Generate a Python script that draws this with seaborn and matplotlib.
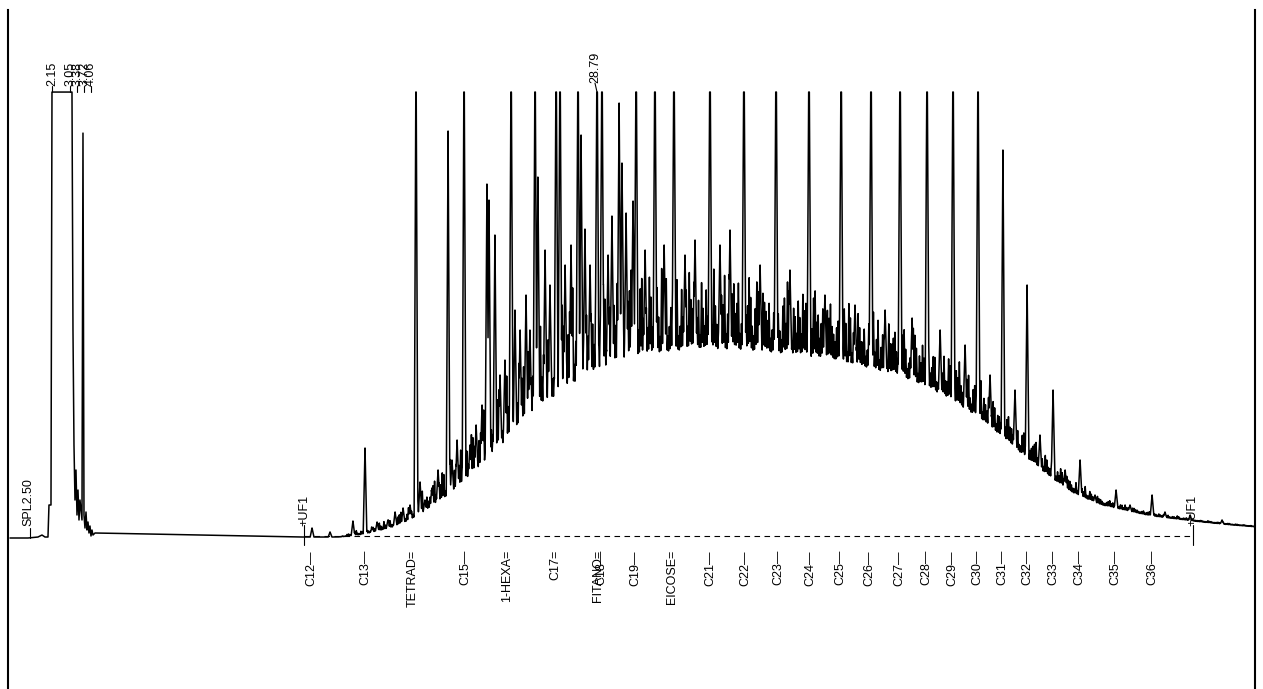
import numpy as np
import pandas as pd
import matplotlib
matplotlib.use("Agg")
import matplotlib.pyplot as plt
import seaborn as sns

# ---- data: retention time (min) and detector response (% of full scale) ----

# solvent front, drawn vertex by vertex
solvent_t = [0.097, 0.977, 1.465, 1.661, 1.808, 1.954, 2.003, 2.101, 2.150, 3.127,
             3.176, 3.225, 3.274, 3.323, 3.372, 3.421, 3.470, 3.518, 3.616, 3.665,
             3.714, 3.763, 3.812, 3.861, 3.910, 3.958, 4.007, 4.056, 4.105, 4.154, 4.252]
solvent_v = [0.0, 0.0, 0.22, 0.67, 0.22, 0.22, 7.40, 7.40, 100.0, 100.0,
             46.64, 20.85, 8.52, 15.25, 5.16, 10.76, 4.04, 8.52, 4.04, 90.8,
             5.16, 2.24, 5.83, 1.79, 3.59, 1.12, 2.69, 0.45, 1.79, 0.67, 1.12]

# lower edge of the unresolved hump
hump_t = [4.25, 6.94, 9.38, 11.83, 14.27, 16.23, 17.20, 18.18, 19.16, 20.14, 21.12,
          22.09, 23.07, 24.05, 25.03, 26.00, 26.98, 27.96, 28.94, 29.91, 31.38,
          33.82, 36.27, 38.71, 41.16, 43.60, 45.55, 47.51, 48.98, 50.44, 51.91,
          53.38, 55.82, 58.26, 59.73, 60.95]
hump_lo = [1.12, 0.90, 0.67, 0.45, 0.22, 0.22, 0.67, 1.57, 2.91, 5.16, 8.07,
           11.43, 15.70, 20.18, 24.66, 28.70, 32.06, 34.75, 37.00, 38.79, 40.58,
           41.70, 41.26, 40.36, 38.57, 35.87, 32.06, 26.46, 20.85, 15.25, 10.31,
           7.40, 4.93, 3.59, 2.91, 2.47]

# upper edge of the unresolved grass
grass_env_t = [4.25, 16.23, 17.20, 18.18, 19.16, 20.14, 21.12, 22.09, 23.07, 24.05,
               25.03, 26.00, 26.98, 27.96, 28.94, 29.91, 31.38, 32.85, 33.82, 34.80,
               35.78, 36.76, 38.71, 41.16, 43.60, 46.04, 48.49, 50.93, 53.38, 55.82,
               58.26, 60.95]
grass_env_hi = [1.12, 0.45, 2.24, 3.59, 6.28, 10.5, 15.5, 21.5, 28.5, 37.0,
                46.0, 52.0, 57.0, 59.5, 60.0, 62.0, 63.0, 62.0, 61.0, 63.0,
                64.0, 61.0, 58.5, 54.0, 50.0, 44.0, 33.5, 20.0, 10.5, 6.8,
                4.8, 3.3]

# grass tops every 0.075 min from 16.2 min, in tenths of the grass band;
# the two lists hold the even and the odd positions
grass_start = 16.2
grass_step = 0.075
grass_even = [
    3, 5, 2, 6, 4, 7, 3, 5, 8, 4, 2, 6, 5, 9, 3, 4, 7, 2, 5, 6,
    8, 3, 4, 6, 2, 7, 5, 9, 4, 3, 6, 8, 2, 5, 7, 4, 9, 3, 6, 5,
    4, 7, 3, 8, 5, 2, 6, 9, 4, 5, 3, 7, 8, 2, 6, 4, 5, 9, 3, 7,
    6, 2, 8, 4, 5, 7, 3, 9, 6, 4, 2, 8, 5, 6, 3, 7, 9, 4, 5, 2,
    7, 4, 6, 3, 8, 5, 9, 2, 6, 7, 4, 5, 8, 3, 6, 9, 2, 5, 7, 4,
    5, 8, 3, 6, 4, 9, 7, 2, 5, 6, 8, 3, 4, 7, 9, 5, 2, 6, 8, 3,
    4, 6, 9, 3, 7, 5, 2, 8, 6, 4, 7, 3, 9, 5, 6, 2, 8, 4, 7, 5,
    6, 3, 8, 5, 2, 7, 9, 4, 6, 3, 5, 8, 7, 2, 4, 9, 6, 5, 3, 7,
    8, 4, 5, 7, 3, 6, 9, 2, 5, 8, 4, 6, 3, 7, 9, 5, 2, 6, 4, 8,
    5, 7, 3, 6, 8, 2, 4, 9, 6, 5, 7, 3, 8, 4, 6, 2, 5, 7, 3, 6,
    4, 6, 8, 3, 5, 7, 2, 6, 4, 8, 5, 3, 7, 6, 2, 4, 5, 3, 6, 4,
    3, 5, 2, 6, 4, 3, 5, 7, 2, 4, 6, 3, 5, 2, 4, 6, 3, 5, 4, 2,
    5, 3, 4, 6, 2, 4, 3, 5, 4, 2, 3, 5, 4, 3, 2, 4, 5, 3, 2, 4,
    3, 2, 4, 3, 5, 2, 3, 4, 2, 3, 4, 2, 3, 5, 2, 3, 4, 2, 3, 2,
    2, 3, 2, 4, 3, 2, 3, 2, 4, 2, 3, 2, 3, 2, 2, 3, 2, 3, 2, 2,
]
grass_odd = [
    4, 2, 6, 3, 5, 8, 2, 4, 6, 3, 7, 4, 2, 5, 8, 3, 6, 2, 4, 7,
    5, 2, 7, 4, 3, 8, 6, 2, 5, 4, 7, 3, 6, 8, 2, 4, 6, 5, 3, 8,
    2, 6, 4, 7, 3, 5, 8, 2, 6, 4, 3, 7, 5, 2, 8, 6, 3, 4, 7, 5,
    3, 7, 4, 6, 2, 8, 5, 3, 7, 2, 6, 4, 8, 3, 5, 7, 2, 6, 4, 3,
    6, 2, 5, 8, 3, 4, 7, 5, 2, 6, 8, 3, 5, 4, 7, 2, 6, 3, 8, 5,
    3, 6, 4, 7, 2, 5, 8, 3, 6, 4, 2, 7, 5, 3, 6, 8, 4, 2, 5, 7,
    7, 3, 5, 2, 6, 8, 4, 3, 7, 5, 2, 6, 4, 8, 3, 5, 7, 2, 6, 4,
    2, 5, 7, 3, 6, 4, 8, 2, 5, 7, 3, 6, 4, 2, 8, 5, 3, 7, 4, 6,
    5, 3, 6, 4, 8, 2, 7, 5, 3, 6, 4, 2, 7, 5, 3, 8, 4, 6, 2, 5,
    6, 4, 2, 7, 5, 3, 6, 8, 2, 4, 5, 7, 3, 6, 2, 5, 4, 3, 7, 4,
    3, 5, 4, 2, 6, 3, 5, 4, 7, 2, 4, 6, 3, 5, 4, 3, 2, 5, 4, 3,
    4, 2, 5, 3, 2, 4, 6, 3, 4, 2, 5, 3, 4, 2, 3, 5, 2, 4, 3, 2,
    2, 4, 3, 2, 5, 3, 2, 4, 3, 2, 4, 3, 2, 3, 4, 2, 3, 2, 4, 3,
    2, 3, 2, 4, 2, 3, 2, 3, 4, 2, 2, 3, 2, 4, 2, 3, 2, 3, 2, 2,
    3, 2, 2, 3, 2, 2, 3, 2, 2, 3, 2, 2, 3, 2, 3, 2, 2, 2, 3, 2,
]

# resolved peaks (apex time, apex response); responses above 100 run off scale
peak_t = [19.94, 22.29, 24.59, 25.76, 26.79, 26.98, 27.86, 28.79, 29.03, 30.70,
          31.62, 32.55, 34.31, 35.97, 37.54, 39.15, 40.72, 42.18, 43.60, 44.92,
          46.19, 47.41,
          14.86, 15.74, 16.86, 17.45, 17.79, 18.04, 18.57, 18.92, 19.31, 19.65,
          20.14, 20.38, 20.72, 21.02, 21.51, 21.70, 21.95, 22.58, 22.88, 23.17,
          23.41, 23.51, 23.80, 24.05, 24.29, 24.78, 25.03, 25.32, 25.51, 25.90,
          26.25, 26.49, 27.23, 27.52, 28.01, 28.20, 28.45, 29.33, 29.52, 29.87,
          30.01, 30.21, 30.55, 31.14, 32.07, 33.09, 33.58, 34.80, 35.29, 36.76,
          38.22, 39.93, 41.40, 42.87, 44.19, 45.56, 46.78, 48.00, 48.63, 49.22,
          49.81, 50.44, 51.08, 51.67, 52.40, 53.13, 54.16, 54.84, 55.92, 56.55,
          57.78, 59.34]
peak_v = [115] * 22 + [
          2.24, 1.35, 3.81, 20.18, 2.24, 3.59, 4.04, 5.83, 6.73, 7.40,
          12.56, 8.52, 11.21, 15.25, 91.26, 17.49, 21.97, 20.85, 25.34, 29.82,
          79.37, 75.78, 67.94, 36.55, 39.91, 51.12, 46.64, 54.48, 46.64, 80.94,
          64.57, 56.73, 61.21, 65.70, 90.36, 69.28, 61.21, 63.45, 72.20, 97.53,
          84.08, 72.87, 75.56, 64.57, 65.70, 63.45, 66.82, 65.70, 69.06, 61.21,
          60.09, 54.48, 52.24, 51.12, 49.33, 46.64, 43.27, 36.55, 87.00, 33.18,
          56.73, 23.09, 33.18, 15.25, 17.49, 9.64, 10.76, 7.40, 9.64, 5.83,
          5.16, 4.04]

# identified compounds
comp_names = ["C12—", "C13—", "TETRAD=", "C15—", "1-HEXA=", "C17=", "FITANO=",
              "C18—", "C19—", "EICOSE=", "C21—", "C22—", "C23—", "C24—", "C25—",
              "C26—", "C27—", "C28—", "C29—", "C30—", "C31—", "C32—", "C33—",
              "C34—", "C35—", "C36—"]
comp_t = [14.81, 17.45, 19.80, 22.34, 24.39, 26.74, 28.84, 28.99, 30.65, 32.46,
          34.31, 36.02, 37.64, 39.20, 40.67, 42.09, 43.55, 44.87, 46.14, 47.36,
          48.59, 49.81, 51.08, 52.35, 54.11, 55.92]

# retention times printed at the top of the trace
rt_labels = ["2.15", "3.05", "3.38", "3.72", "4.06"]
rt_t = [2.15, 3.05, 3.38, 3.72, 4.06]
apex_label = "28.79"
apex_t = 28.79

# integration events
event_names = ["SPL2.50", "+UF1", "+UF1"]
event_t = [1.07, 14.47, 57.90]

# ---- build the detector trace ----
t = np.arange(4.26, 60.95, 0.0025)
lo = np.interp(t, hump_t, hump_lo)


def spike(center, top, hw):
    base = np.interp(center, hump_t, hump_lo)
    shape = np.clip(1.0 - np.abs(t - center) / hw, 0.0, None)
    return lo + (top - base) * shape


grass = [v for pair in zip(grass_even, grass_odd) for v in pair]
sig = lo.copy()
for i, f in enumerate(grass):
    c = grass_start + i * grass_step
    b = np.interp(c, hump_t, hump_lo)
    h = np.interp(c, grass_env_t, grass_env_hi)
    sig = np.maximum(sig, spike(c, b + f / 10.0 * (h - b), 0.045))
for c, v in zip(peak_t, peak_v):
    sig = np.maximum(sig, spike(c, v, 0.09))
sig = np.minimum(sig, 100.0)

trace = pd.DataFrame({
    "time": np.concatenate([solvent_t, t]),
    "response": np.concatenate([solvent_v, sig]),
})

# ---- draw ----
sns.set_theme(style="white")
plt.rcParams["font.family"] = ["Liberation Sans", "DejaVu Sans"]

fig = plt.figure(figsize=(12.63, 6.89), dpi=100)
ax = fig.add_axes([8 / 1263, 0.0, 1247 / 1263, 1 - 10 / 689])

sns.lineplot(data=trace, x="time", y="response", sort=False, estimator=None,
             color="black", lw=1.1, ax=ax)

# baseline drawn by the integrator
ax.plot([14.47, 57.90], [0.45, 0.45], color="black", lw=0.8, ls=(0, (5, 4)))

ax.set_xlim(0, 60.95)
ax.set_ylim(-33.86, 118.4)
ax.set_xlabel("")
ax.set_ylabel("")
ax.set_xticks([])
ax.set_yticks([])
for side in ("top", "bottom"):
    ax.spines[side].set_visible(False)
for side in ("left", "right"):
    ax.spines[side].set_color("black")
    ax.spines[side].set_linewidth(1.5)

fs = 9
for name, x in zip(comp_names, comp_t):
    ax.text(x, -2.7, name, rotation=90, ha="center", va="top", fontsize=fs,
            color="black")

for name, x in zip(rt_labels, rt_t):
    ax.plot([x, x], [100, 101.3], color="black", lw=0.8)
    ax.text(x, 101.3, name, rotation=90, ha="center", va="bottom", fontsize=fs,
            color="black")
ax.plot([apex_t, apex_t - 0.1], [100, 102], color="black", lw=0.8)
ax.text(apex_t - 0.1, 102, apex_label, rotation=90, ha="center", va="bottom",
        fontsize=fs, color="black")

# sample start marker
ax.plot([event_t[0], event_t[0]], [0, 2.2], color="black", lw=0.8)
ax.text(event_t[0] - 0.05, 2.6, event_names[0], rotation=90, ha="center",
        va="bottom", fontsize=fs, color="black")
# unresolved-front markers
for name, x in zip(event_names[1:], event_t[1:]):
    ax.plot([x, x], [3.0, -1.6], color="black", lw=0.8)
    ax.text(x, 2.6, name, rotation=90, ha="center", va="bottom", fontsize=fs,
            color="black")

fig.savefig("out.png", dpi=100, facecolor="white")
